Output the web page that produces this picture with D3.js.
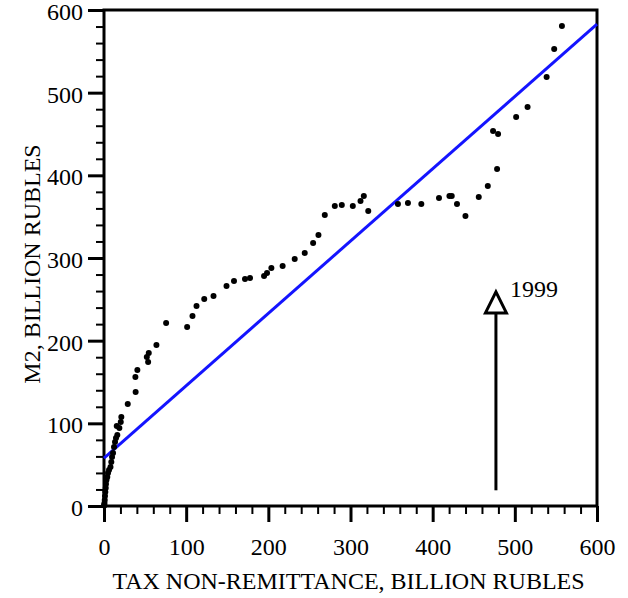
<!DOCTYPE html>
<html>
<head>
<meta charset="utf-8">
<script src="https://cdn.jsdelivr.net/npm/d3@7"></script>
<style>
  html, body { margin: 0; padding: 0; background: #fff; }
  svg { display: block; }
  svg text { font-family: "Liberation Serif", "DejaVu Serif", serif !important; fill: #000; }
</style>
</head>
<body>
<svg id="chart" width="628" height="598"></svg>
<script>
// Data: tax non-remittance (x) vs M2 (y), billion rubles
const taxNonRemittance = [0.2, 0.4, 0.6, 0.9, 1.2, 1.6, 2.1, 2.4, 3.0, 4.0, 4.9, 6.1, 7.9, 8.9, 9.8, 11.0, 12.2, 13.4, 14.6, 16.2, 15.5, 18.7, 20.4, 21.1,
  28.9, 38.5, 38.2, 40.6, 53.7, 52.1, 54.5, 63.8, 75.6, 101.2, 107.7, 112.6, 122.0, 133.3, 149.1, 158.2, 171.6, 177.7, 194.8, 198.4, 203.7,
  217.4, 232.1, 244.3, 254.5, 261.0, 268.7, 280.9, 289.4, 302.8, 312.2, 316.2, 321.6, 357.7, 369.9, 386.2, 407.7, 420.4, 423.2, 429.6,
  439.9, 456.1, 467.1, 478.4, 473.5, 479.6, 501.6, 515.5, 538.7, 547.9, 557.3];
const m2 = [1.5, 0.5, 3.6, 7.3, 12.1, 16.9, 21.8, 26.6, 31.4, 35.1, 39.9, 43.5, 47.2, 53.2, 59.3, 64.1, 71.4, 77.4, 82.3, 85.9, 96.8, 94.4, 101.6, 107.7,
  123.4, 137.9, 156.1, 164.6, 174.2, 180.2, 185.1, 194.8, 221.4, 216.5, 229.9, 241.9, 250.4, 254.0, 266.1, 272.2, 274.6, 275.8, 278.2, 281.9, 287.9,
  290.3, 298.8, 306.1, 318.2, 327.8, 352.0, 362.8, 364.1, 362.8, 368.9, 375.0, 356.9, 365.3, 366.5, 365.3, 372.6, 375.0, 375.0, 365.3,
  350.8, 373.8, 387.1, 407.6, 453.6, 450.0, 470.6, 482.6, 518.9, 552.8, 580.6];
const fitLineX = [0, 600];
const fitLineY = [58, 583];
const arrowX = [477, 477];
const arrowY = [19, 259];
const arrowLabel = "1999";
const xTicks = [0, 100, 200, 300, 400, 500, 600];
const yTicks = [0, 100, 200, 300, 400, 500, 600];
const xTitle = "TAX NON-REMITTANCE, BILLION RUBLES";
const yTitle = "M2, BILLION RUBLES";

const FS = 24;
const svg = d3.select("#chart");
const pL = 104, pR = 597, pT = 10, pB = 506;
const x = d3.scaleLinear().domain([0, 600]).range([pL, pR]);
const y = d3.scaleLinear().domain([0, 600]).range([pB, pT]);
const minor = d3.range(0, 601, 20).filter(v => v % 100 !== 0);

// minor ticks
svg.append("g").attr("transform", `translate(0,${pB})`)
  .call(d3.axisBottom(x).tickValues(minor).tickSize(8).tickFormat(""))
  .call(g => g.select(".domain").remove())
  .call(g => g.selectAll("line").attr("stroke", "#000").attr("stroke-width", 2));
svg.append("g").attr("transform", `translate(${pL},0)`)
  .call(d3.axisLeft(y).tickValues(minor).tickSize(8).tickFormat(""))
  .call(g => g.select(".domain").remove())
  .call(g => g.selectAll("line").attr("stroke", "#000").attr("stroke-width", 2));

// major ticks
svg.append("g").attr("transform", `translate(0,${pB})`)
  .call(d3.axisBottom(x).tickValues(xTicks).tickSize(16).tickPadding(16).tickFormat(d3.format("d")))
  .call(g => g.select(".domain").remove())
  .call(g => g.selectAll("line").attr("stroke", "#000").attr("stroke-width", 3))
  .call(g => g.selectAll("text").attr("font-size", FS).attr("fill", "#000"));
svg.append("g").attr("transform", `translate(${pL},0)`)
  .call(d3.axisLeft(y).tickValues(yTicks).tickSize(16).tickPadding(5).tickFormat(d3.format("d")))
  .call(g => g.select(".domain").remove())
  .call(g => g.selectAll("line").attr("stroke", "#000").attr("stroke-width", 3))
  .call(g => g.selectAll("text").attr("font-size", FS).attr("dy", "0.4em").attr("fill", "#000"));

// frame
svg.append("rect").attr("x", pL).attr("y", pT)
  .attr("width", pR - pL).attr("height", pB - pT)
  .attr("fill", "none").attr("stroke", "#000").attr("stroke-width", 3);

// fit line
svg.append("line")
  .attr("x1", x(fitLineX[0])).attr("y1", y(fitLineY[0]))
  .attr("x2", x(fitLineX[1])).attr("y2", y(fitLineY[1]))
  .attr("stroke", "#1414ff").attr("stroke-width", 3);

// points
svg.append("g").selectAll("circle")
  .data(taxNonRemittance.map((v, i) => [v, m2[i]]))
  .join("circle")
  .attr("cx", d => x(d[0])).attr("cy", d => y(d[1]))
  .attr("r", 3).attr("fill", "#000");

// arrow
const ax = x(arrowX[0]);
const tipY = y(arrowY[1]);
svg.append("line")
  .attr("x1", ax).attr("y1", y(arrowY[0]))
  .attr("x2", ax).attr("y2", tipY + 20)
  .attr("stroke", "#000").attr("stroke-width", 3);
svg.append("path")
  .attr("d", `M${ax},${tipY} L${ax - 10.5},${tipY + 21} L${ax + 10.5},${tipY + 21} Z`)
  .attr("fill", "#fff").attr("stroke", "#000").attr("stroke-width", 3);
svg.append("text").attr("x", ax + 14).attr("y", tipY + 5)
  .attr("font-size", FS).text(arrowLabel);

// titles
svg.append("text").attr("x", (pL + pR) / 2 - 2).attr("y", 589)
  .attr("text-anchor", "middle").attr("font-size", FS).text(xTitle);
svg.append("text")
  .attr("transform", `translate(40,${(pT + pB) / 2 + 6}) rotate(-90)`)
  .attr("text-anchor", "middle").attr("font-size", FS).text(yTitle);
</script>
</body>
</html>
